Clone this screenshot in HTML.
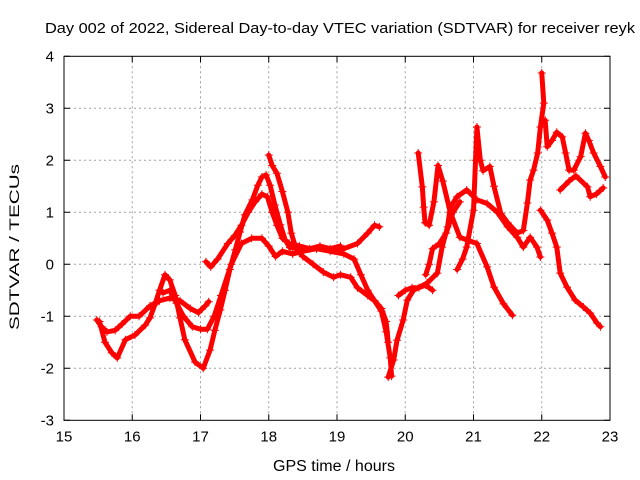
<!DOCTYPE html>
<html><head><meta charset="utf-8"><style>
body{margin:0;background:#fff}
svg{display:block;font-family:"Liberation Sans",sans-serif}
</style></head><body>
<svg id="chart" width="640" height="480">
<rect width="640" height="480" fill="#fff"/>
<text x="45" y="33" font-size="15" textLength="590" lengthAdjust="spacingAndGlyphs">Day 002 of 2022, Sidereal Day-to-day VTEC variation (SDTVAR) for receiver reyk</text>
<text x="273" y="471" font-size="15.5" textLength="122" lengthAdjust="spacingAndGlyphs">GPS time / hours</text>
<text transform="translate(19,330) rotate(-90)" font-size="14" textLength="166" lengthAdjust="spacingAndGlyphs">SDTVAR / TECUs</text>
<g id="grid"></g><g id="ticks"></g><g id="marks"></g>
<rect x="64" y="56.3" width="546" height="364" fill="none" stroke="#000" stroke-width="1"/>
</svg>
<script>
const xTicks=[15,16,17,18,19,20,21,22,23];
const yTicks=[-3,-2,-1,0,1,2,3,4];
const trackA=[[15.48,-1.07],[15.55,-1.2],[15.63,-1.3],[15.75,-1.27],[15.85,-1.15],[15.97,-1.0],[16.1,-1.0],[16.26,-0.8],[16.4,-0.7],[16.55,-0.65],[16.7,-0.7],[16.85,-0.85],[16.97,-0.93],[17.07,-0.8],[17.12,-0.72]];
const trackB=[[15.52,-1.1],[15.6,-1.5],[15.7,-1.7],[15.78,-1.8],[15.9,-1.45],[16.04,-1.36],[16.19,-1.17],[16.26,-1.03],[16.33,-0.78],[16.4,-0.5],[16.48,-0.2],[16.55,-0.3],[16.63,-0.6],[16.7,-1.03],[16.77,-1.45],[16.92,-1.88],[17.04,-2.0],[17.14,-1.65],[17.21,-1.27],[17.29,-0.88],[17.36,-0.5],[17.43,-0.1],[17.51,0.28],[17.58,0.62],[17.65,0.95],[17.76,1.24],[17.84,1.52],[17.9,1.68],[17.96,1.72],[18.02,1.52],[18.09,1.14],[18.17,0.76],[18.24,0.47],[18.31,0.32],[18.5,0.3],[18.7,0.3],[18.9,0.28],[19.1,0.3],[19.3,0.4],[19.45,0.6],[19.55,0.75],[19.62,0.72]];
const trackC=[[16.45,-0.55],[16.55,-0.5],[16.65,-0.75],[16.75,-1.0],[16.88,-1.2],[17.0,-1.25],[17.1,-1.25],[17.2,-1.0],[17.3,-0.6],[17.45,0.0],[17.6,0.4],[17.75,0.5],[17.9,0.5],[18.0,0.35],[18.1,0.15],[18.2,0.25],[18.35,0.2],[18.5,0.25],[18.7,0.3],[18.9,0.25],[19.1,0.2],[19.25,0.1],[19.35,-0.2],[19.45,-0.5],[19.55,-0.7],[19.65,-0.9],[19.72,-1.3],[19.78,-1.8],[19.8,-2.15]];
const trackD=[[17.08,0.05],[17.15,-0.05],[17.25,0.1],[17.4,0.4],[17.5,0.55],[17.6,0.75],[17.7,1.0],[17.8,1.2],[17.9,1.35],[17.98,1.3],[18.05,1.0],[18.12,0.75],[18.2,0.5],[18.3,0.4],[18.45,0.35],[18.6,0.3],[18.75,0.35],[18.9,0.3],[19.05,0.35]];
const trackE=[[18.0,2.1],[18.05,1.9],[18.12,1.75],[18.2,1.4],[18.28,1.0],[18.33,0.6],[18.4,0.3],[18.5,0.15],[18.65,0.0],[18.8,-0.15],[18.95,-0.25],[19.05,-0.2],[19.2,-0.25],[19.3,-0.45],[19.45,-0.6],[19.55,-0.7],[19.65,-0.85],[19.72,-1.1],[19.75,-1.5]];
const trackF=[[19.75,-2.17],[19.83,-1.84],[19.88,-1.46],[19.97,-1.07],[20.03,-0.69],[20.12,-0.5],[20.32,-0.36],[20.47,-0.17],[20.54,0.33],[20.62,0.72],[20.66,1.1],[20.76,1.3],[20.9,1.43],[21.05,1.24],[21.2,1.17],[21.35,1.0],[21.5,0.72],[21.64,0.52],[21.73,0.33],[21.83,0.52],[21.93,0.33],[21.98,0.14]];
const trackG=[[20.19,2.14],[20.25,1.49],[20.27,1.1],[20.29,0.8],[20.35,0.75],[20.42,1.2],[20.48,1.9],[20.55,1.6],[20.66,1.0],[20.8,0.52],[20.9,0.47],[21.05,0.4],[21.2,-0.05],[21.3,-0.44],[21.44,-0.76],[21.57,-0.98]];
const trackH=[[20.76,-0.1],[20.84,0.1],[20.9,0.33],[21.0,1.04],[21.03,2.0],[21.05,2.64],[21.1,2.0],[21.14,1.8],[21.24,1.88],[21.3,1.5],[21.4,0.98],[21.5,0.8],[21.64,0.6],[21.73,0.65],[21.79,1.18],[21.83,1.62],[21.88,1.81],[21.94,2.14],[21.98,2.64],[22.03,3.1],[22.0,3.68]];
const trackI=[[22.05,2.77],[22.08,2.26],[22.15,2.38],[22.22,2.54],[22.3,2.45],[22.35,2.14],[22.4,1.81],[22.47,1.81],[22.57,2.07],[22.64,2.52],[22.69,2.38],[22.76,2.14],[22.86,1.88],[22.93,1.68]];
const trackJ=[[21.98,1.04],[22.08,0.85],[22.15,0.6],[22.22,0.33],[22.27,-0.17],[22.37,-0.44],[22.49,-0.69],[22.61,-0.82],[22.71,-0.94],[22.81,-1.13],[22.86,-1.2]];
const trackK=[[22.27,1.43],[22.4,1.6],[22.5,1.7],[22.67,1.49],[22.71,1.3],[22.8,1.35],[22.9,1.47]];
const trackL=[[19.9,-0.6],[20.0,-0.5],[20.1,-0.45],[20.2,-0.45],[20.3,-0.4],[20.4,-0.5]];
const trackM=[[20.3,-0.2],[20.35,0.0],[20.4,0.3],[20.5,0.4],[20.6,0.6],[20.7,1.0],[20.8,1.2]];
const tracks=[trackA,trackB,trackC,trackD,trackE,trackF,trackG,trackH,trackI,trackJ,trackK,trackL,trackM];

const NS='http://www.w3.org/2000/svg';
const X0=64,X1=610,Y0=420.3,Y1=56.3;
const sx=t=>X0+(t-15)/(23-15)*(X1-X0);
const sy=v=>Y0-(v+3)/(4+3)*(Y0-Y1);
function mk(tag,attrs,parent){const e=document.createElementNS(NS,tag);for(const k in attrs)e.setAttribute(k,attrs[k]);parent.appendChild(e);return e;}
const grid=document.getElementById('grid'),ticks=document.getElementById('ticks'),marks=document.getElementById('marks');
xTicks.forEach(t=>{
  const x=sx(t);
  if(t>15&&t<23){const g=mk('line',{x1:x,x2:x,y1:Y1,y2:Y0,stroke:'#a0a0a0','stroke-dasharray':'2,3'},grid);
  
  }
  const tk=mk('path',{d:`M${x},${Y0}v-6M${x},${Y1}v6`,stroke:'#000'},ticks);
  
  
  const l=mk('text',{x:x,y:Y0+21,'font-size':15,'text-anchor':'middle'},ticks);l.textContent=t;
  
  
});
yTicks.forEach(v=>{
  const y=sy(v);
  if(v>-3&&v<4){const g=mk('line',{x1:X0,x2:X1,y1:y,y2:y,stroke:'#a0a0a0','stroke-dasharray':'2,3'},grid);
  
  }
  const tk=mk('path',{d:`M${X0},${y}h6M${X1},${y}h-6`,stroke:'#000'},ticks);
  
  
  const l=mk('text',{x:X0-10,y:y+5,'font-size':15,'text-anchor':'end'},ticks);l.textContent=v;
  
  
});
tracks.forEach((tr,i)=>{
  const pts=tr.map(p=>sx(p[0])+','+sy(p[1])).join(' ');
  const pl=mk('polyline',{points:pts,fill:'none',stroke:'#f00','stroke-width':5,'stroke-linejoin':'round','stroke-linecap':'round'},marks);
  
  
  let d='';
  tr.forEach(p=>{const x=sx(p[0]),y=sy(p[1]);d+=`M${x-4},${y}h8M${x},${y-4}v8`;});
  const m=mk('path',{d:d,stroke:'#f00','stroke-width':1},marks);
  
  
});
</script>
</body></html>
